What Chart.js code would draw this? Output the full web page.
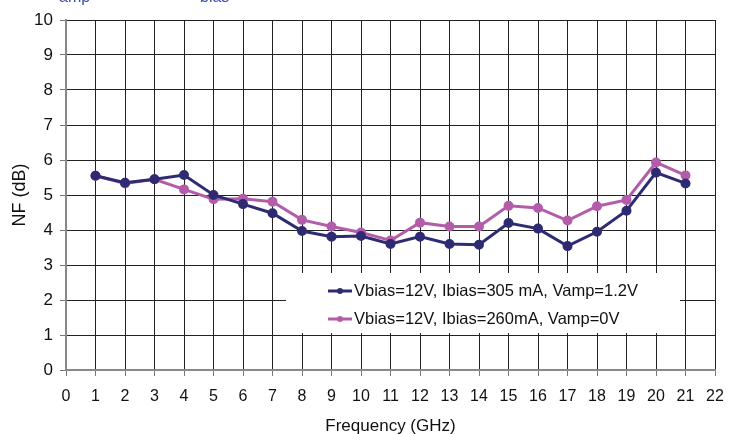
<!DOCTYPE html>
<html><head><meta charset="utf-8">
<script src="https://cdn.jsdelivr.net/npm/chart.js@4.4.1/dist/chart.umd.min.js"></script>
<style>
html,body{margin:0;padding:0;background:#fff;overflow:hidden}
#wrap{position:relative;width:731px;height:434px}
.cut{position:absolute;font:16px "Liberation Sans",Arial,sans-serif;color:#3b4fb0;line-height:16px}
</style></head>
<body><div id="wrap">
<canvas id="c" width="731" height="434"></canvas>
<span class="cut" style="left:59px;top:-11px">amp</span>
<span class="cut" style="left:200px;top:-11px">bias</span>
</div>
<script>
const freq = [1,2,3,4,5,6,7,8,9,10,11,12,13,14,15,16,17,18,19,20,21];
const nfA = [5.55,5.35,5.45,5.57,5.0,4.74,4.48,3.97,3.81,3.83,3.6,3.81,3.6,3.58,4.2,4.04,3.54,3.95,4.55,5.64,5.33];
const nfB = [5.55,5.33,5.45,5.16,4.88,4.89,4.81,4.29,4.1,3.93,3.7,4.21,4.1,4.1,4.69,4.63,4.27,4.68,4.86,5.93,5.56];
const labelA = 'Vbias=12V, Ibias=305 mA, Vamp=1.2V';
const labelB = 'Vbias=12V, Ibias=260mA, Vamp=0V';
const colA = '#2e2b72', colB = '#b35daa';
const FONT = '"Liberation Sans", Arial, sans-serif';

const legendBox = {
  id:'legendBox',
  beforeDatasetsDraw(chart){
    const ctx = chart.ctx;
    ctx.save();
    ctx.fillStyle = '#fff';
    ctx.fillRect(286, 273, 394, 60);
    const items = [[labelA,colA,291],[labelB,colB,319]];
    ctx.font = '16.5px ' + FONT;
    ctx.textBaseline = 'middle';
    for (const [t,c,y] of items){
      ctx.strokeStyle = c; ctx.lineWidth = 3;
      ctx.beginPath(); ctx.moveTo(328,y); ctx.lineTo(352,y); ctx.stroke();
      ctx.fillStyle = c; ctx.beginPath(); ctx.arc(340,y,3,0,Math.PI*2); ctx.fill();
      ctx.fillStyle = '#111'; ctx.fillText(t, 354, y + 0.5);
    }
    ctx.restore();
  }
};

new Chart(document.getElementById('c'), {
  type:'line',
  data:{ datasets:[
    {label:labelA, data:freq.map((x,i)=>({x, y:nfA[i]})), borderColor:colA, backgroundColor:colA, borderWidth:3, pointRadius:3.5, pointHoverRadius:3.5, tension:0},
    {label:labelB, data:freq.map((x,i)=>({x, y:nfB[i]})), borderColor:colB, backgroundColor:colB, borderWidth:3, pointRadius:3.5, pointHoverRadius:3.5, tension:0}
  ]},
  options:{
    responsive:false, animation:false, devicePixelRatio:1,
    layout:{padding:{top:20,right:16,left:0,bottom:0}},
    plugins:{legend:{display:false}, tooltip:{enabled:false}},
    scales:{
      x:{type:'linear', min:0, max:22,
        ticks:{stepSize:1, color:'#111', font:{family:FONT,size:16}, padding:11, maxRotation:0, autoSkip:false},
        grid:{color:'#222', lineWidth:1, tickLength:6, tickColor:'#777'},
        border:{color:'#888', width:2},
        title:{display:true, text:'Frequency (GHz)', color:'#111', font:{family:FONT,size:17,lineHeight:0.85}, padding:{top:0,bottom:0}},
        afterFit(s){ s.height = 64; s.paddingLeft = 0; s.paddingRight = 0; }
      },
      y:{min:0, max:10,
        ticks:{stepSize:1, color:'#111', font:{family:FONT,size:17}, padding:7},
        grid:{color:'#222', lineWidth:1, tickLength:6, tickColor:'#777'},
        border:{color:'#888', width:2},
        title:{display:true, text:'NF (dB)', color:'#111', font:{family:FONT,size:18}, padding:{top:9,bottom:0}},
        afterFit(s){ s.width = 66; s.paddingTop = 0; s.paddingBottom = 0; }
      }
    }
  },
  plugins:[legendBox]
});
</script>
</body></html>
